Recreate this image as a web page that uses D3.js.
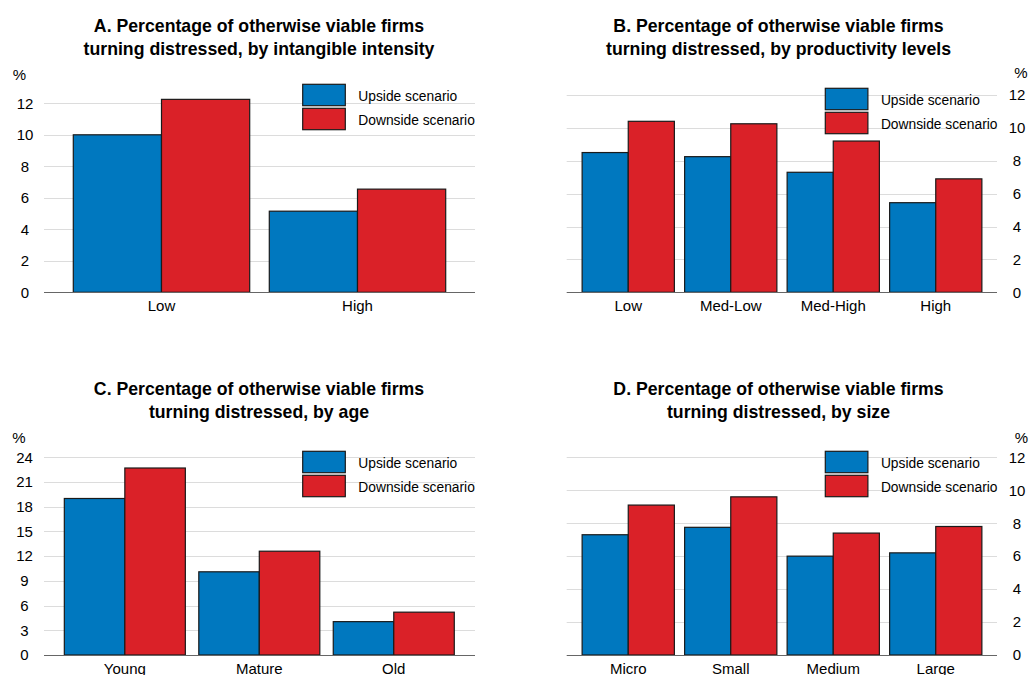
<!DOCTYPE html>
<html>
<head>
<meta charset="utf-8">
<script src="https://d3js.org/d3.v7.min.js"></script>
<style>
  body { margin: 0; background: #fff; }
  svg { display: block; font-family: "Liberation Sans", Arial, sans-serif; }
</style>
</head>
<body>
<div id="vis"></div>
<script>
// series shared by all four panels
var series = ["Upside scenario", "Downside scenario"];

// A. by intangible intensity
var catsA = ["Low", "High"];
var upsideA = [10.0, 5.15];
var downsideA = [12.25, 6.55];
var ticksA = [0, 2, 4, 6, 8, 10, 12];

// B. by productivity levels
var catsB = ["Low", "Med-Low", "Med-High", "High"];
var upsideB = [8.5, 8.25, 7.3, 5.45];
var downsideB = [10.4, 10.25, 9.2, 6.9];
var ticksB = [0, 2, 4, 6, 8, 10, 12];

// C. by age
var catsC = ["Young", "Mature", "Old"];
var upsideC = [19.0, 10.1, 4.05];
var downsideC = [22.7, 12.6, 5.2];
var ticksC = [0, 3, 6, 9, 12, 15, 18, 21, 24];

// D. by size
var catsD = ["Micro", "Small", "Medium", "Large"];
var upsideD = [7.3, 7.75, 6.0, 6.2];
var downsideD = [9.1, 9.6, 7.4, 7.8];
var ticksD = [0, 2, 4, 6, 8, 10, 12];

var titlesA = ["A. Percentage of otherwise viable firms", "turning distressed, by intangible intensity"];
var titlesB = ["B. Percentage of otherwise viable firms", "turning distressed, by productivity levels"];
var titlesC = ["C. Percentage of otherwise viable firms", "turning distressed, by age"];
var titlesD = ["D. Percentage of otherwise viable firms", "turning distressed, by size"];

var colors = ["#0078bf", "#da2128"];

var svg = d3.select("#vis").append("svg")
  .attr("width", 1030)
  .attr("height", 675);

// layout of each panel
var panels = [
  { title: titlesA, cats: catsA, up: upsideA, down: downsideA, ticks: ticksA,
    tx: 259, ty: 32, y0: 292.3, yTop: 103.3, gx: [44, 475], xr: [63.5, 455.5],
    side: "left", lx: 25, pct: [19.5, 75], leg: [302.7, 84.3] },
  { title: titlesB, cats: catsB, up: upsideB, down: downsideB, ticks: ticksB,
    tx: 778.5, ty: 32, y0: 292.3, yTop: 95, gx: [566.7, 997], xr: [577, 987],
    side: "right", lx: 1017, pct: [1021, 73], leg: [825.3, 88.3] },
  { title: titlesC, cats: catsC, up: upsideC, down: downsideC, ticks: ticksC,
    tx: 259, ty: 395, y0: 655, yTop: 457.3, gx: [44, 475], xr: [57.6, 461],
    side: "left", lx: 24.5, pct: [19, 438], leg: [302.7, 451.3] },
  { title: titlesD, cats: catsD, up: upsideD, down: downsideD, ticks: ticksD,
    tx: 778.5, ty: 395, y0: 655, yTop: 457.3, gx: [566.7, 997], xr: [577, 987],
    side: "right", lx: 1017, pct: [1021.5, 438], leg: [825.3, 451.3] }
];

panels.forEach(drawPanel);

function drawPanel(p) {
  var g = svg.append("g");
  var ymax = p.ticks[p.ticks.length - 1];

  var y = d3.scaleLinear()
    .domain([0, ymax])
    .range([p.y0, p.yTop]);

  var x0 = d3.scaleBand()
    .domain(p.cats)
    .range(p.xr)
    .paddingInner(0.1)
    .paddingOuter(0.05);

  var x1 = d3.scaleBand()
    .domain(series)
    .range([0, x0.bandwidth()]);

  // title
  var title = g.append("text")
    .attr("text-anchor", "middle")
    .attr("font-weight", "bold")
    .attr("font-size", 17.7)
    .attr("fill", "#000");
  p.title.forEach(function(t, i) {
    title.append("tspan")
      .attr("x", p.tx)
      .attr("y", p.ty + i * 23)
      .text(t);
  });

  // gridlines
  g.selectAll(".grid")
    .data(p.ticks.filter(function(t) { return t > 0; }))
    .join("line")
    .attr("class", "grid")
    .attr("x1", p.gx[0])
    .attr("x2", p.gx[1])
    .attr("y1", function(d) { return Math.round(y(d)) + 0.5; })
    .attr("y2", function(d) { return Math.round(y(d)) + 0.5; })
    .attr("stroke", "#dcdcdc")
    .attr("stroke-width", 1);

  // bars
  var rows = p.cats.map(function(c, i) {
    return { cat: c, vals: [p.up[i], p.down[i]] };
  });

  var groups = g.selectAll(".grp")
    .data(rows)
    .join("g")
    .attr("class", "grp")
    .attr("transform", function(d) { return "translate(" + x0(d.cat) + ",0)"; });

  groups.selectAll("rect")
    .data(function(d) {
      return d.vals.map(function(v, j) { return { s: series[j], v: v, j: j }; });
    })
    .join("rect")
    .attr("x", function(d) { return x1(d.s); })
    .attr("y", function(d) { return y(d.v); })
    .attr("width", x1.bandwidth())
    .attr("height", function(d) { return y(0) - y(d.v); })
    .attr("fill", function(d) { return colors[d.j]; })
    .attr("stroke", "#1a1a1a")
    .attr("stroke-width", 1.2);

  // zero line
  g.append("line")
    .attr("x1", p.gx[0])
    .attr("x2", p.gx[1])
    .attr("y1", Math.round(p.y0) + 0.5)
    .attr("y2", Math.round(p.y0) + 0.5)
    .attr("stroke", "#666")
    .attr("stroke-width", 1);

  // x axis labels
  g.append("g")
    .attr("transform", "translate(0," + p.y0 + ")")
    .call(d3.axisBottom(x0).tickSize(0).tickPadding(8))
    .call(function(a) {
      a.select(".domain").remove();
      a.attr("font-size", 15).attr("font-family", null);
      a.selectAll("text").attr("fill", "#000");
    });

  // y axis labels
  var yAxis = p.side === "left" ? d3.axisLeft(y) : d3.axisRight(y);
  g.append("g")
    .attr("transform", "translate(" + p.lx + ",0)")
    .call(yAxis.tickValues(p.ticks).tickSize(0).tickFormat(d3.format("d")))
    .call(function(a) {
      a.select(".domain").remove();
      a.attr("font-size", 15).attr("font-family", null);
      a.selectAll("text")
        .attr("x", 0)
        .attr("text-anchor", "middle")
        .attr("fill", "#000");
    });

  g.append("text")
    .attr("x", p.pct[0])
    .attr("y", p.pct[1])
    .attr("dy", "0.35em")
    .attr("text-anchor", "middle")
    .attr("font-size", 15)
    .text("%");

  // legend
  var leg = g.append("g")
    .attr("transform", "translate(" + p.leg[0] + "," + p.leg[1] + ")");
  var items = leg.selectAll("g")
    .data(series)
    .join("g")
    .attr("transform", function(d, i) { return "translate(0," + i * 24 + ")"; });
  items.append("rect")
    .attr("width", 42.6)
    .attr("height", 21.4)
    .attr("fill", function(d, i) { return colors[i]; })
    .attr("stroke", "#1a1a1a")
    .attr("stroke-width", 1.2);
  items.append("text")
    .attr("x", 55.6)
    .attr("y", 11.5)
    .attr("dy", "0.35em")
    .attr("font-size", 13.8)
    .attr("fill", "#000")
    .text(function(d) { return d; });
}
</script>
</body>
</html>
